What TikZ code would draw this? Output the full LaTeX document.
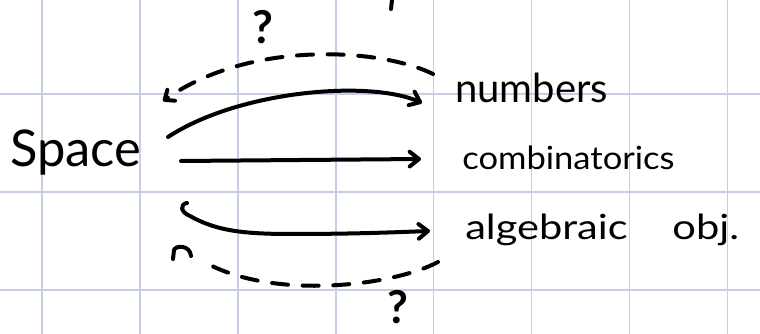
\documentclass[tikz,border=0pt]{standalone}
\usepackage{fontspec}
\usepackage{graphicx}
\setmainfont{Lato}
\usetikzlibrary{arrows.meta}
\definecolor{gridc}{RGB}{196,207,226}
\tikzset{
  ink/.style={line width=3pt, line cap=round, line join=round, black},
  inkarrow/.style={ink, -{Straight Barb[length=7pt,width=11pt,line cap=round,line join=round]}},
  dashink/.style={ink, dash pattern=on 12pt off 11pt},
  lbl/.style={inner sep=0pt, anchor=base west, text=black},
  qmark/.style={inner sep=0pt, font=\bfseries\fontsize{34}{36}\selectfont},
}
\begin{document}
\begin{tikzpicture}[x=0.75pt,y=-0.75pt]
\useasboundingbox (0,0) rectangle (760,334);
\fill[white] (0,0) rectangle (760,334);
% grid
\foreach \gx in {42,139.9,237.8,335.7,433.6,531.5,629.4,727.3}
  \draw[gridc, line width=1.2pt] (\gx,0) -- (\gx,334);
\foreach \gy in {94,191.9,289.8}
  \draw[gridc, line width=1.2pt] (0,\gy) -- (760,\gy);
% top tick
\coordinate (tickA) at (392,0);
\coordinate (tickB) at (391,9);
\draw[ink] (tickA) -- (tickB);
% labels
\node[lbl, font=\fontsize{38}{40}\selectfont] (space) at (10,167) {Space};
\node[lbl, font=\fontsize{30}{32}\selectfont] (numbers) at (455,103) {numbers};
\node[lbl, font=\fontsize{24}{26}\selectfont] (comb) at (462,170) {\scalebox{1.08}[1]{combinatorics}};
\node[lbl, font=\fontsize{26}{28}\selectfont] (alg) at (465,240) {\scalebox{1.2}[1]{algebraic\hspace{28pt}obj.}};
\node[qmark] (q1) at (263,27) {?};
\node[qmark] (q2) at (398,307) {?};
% endpoints
\coordinate (n1s) at (168,137);
\coordinate (n1e) at (422,103);
\coordinate (c1s) at (181,161);
\coordinate (c1e) at (421,159);
\coordinate (a1s) at (187,203);
\coordinate (a1e) at (430,231);
\coordinate (t1s) at (433,74);
\coordinate (t1e) at (163,101);
\coordinate (b1s) at (438,262);
\coordinate (b1e) at (210,265);
% arrows
\draw[inkarrow] (n1s) .. controls (240,90) and (370,80) .. (n1e);
\draw[inkarrow] (c1s) -- (c1e);
\draw[inkarrow] (a1s) .. controls (180,204) and (180,212) .. (190,216)
  .. controls (215,230) and (240,234) .. (290,234)
  .. controls (360,234) and (400,232) .. (a1e);
\draw[dashink, -{Straight Barb[length=6pt,width=10pt,line cap=round,line join=round]}]
  (t1s) .. controls (380,48) and (250,40) .. (t1e);
\draw[dashink] (b1s) .. controls (395,285) and (280,300) .. (b1e);
\coordinate (hA) at (173,259);
\coordinate (hB) at (191,256);
\draw[ink] (hA) -- (174,250) .. controls (176,245) and (190,245) .. (hB);
\end{tikzpicture}
\end{document}
